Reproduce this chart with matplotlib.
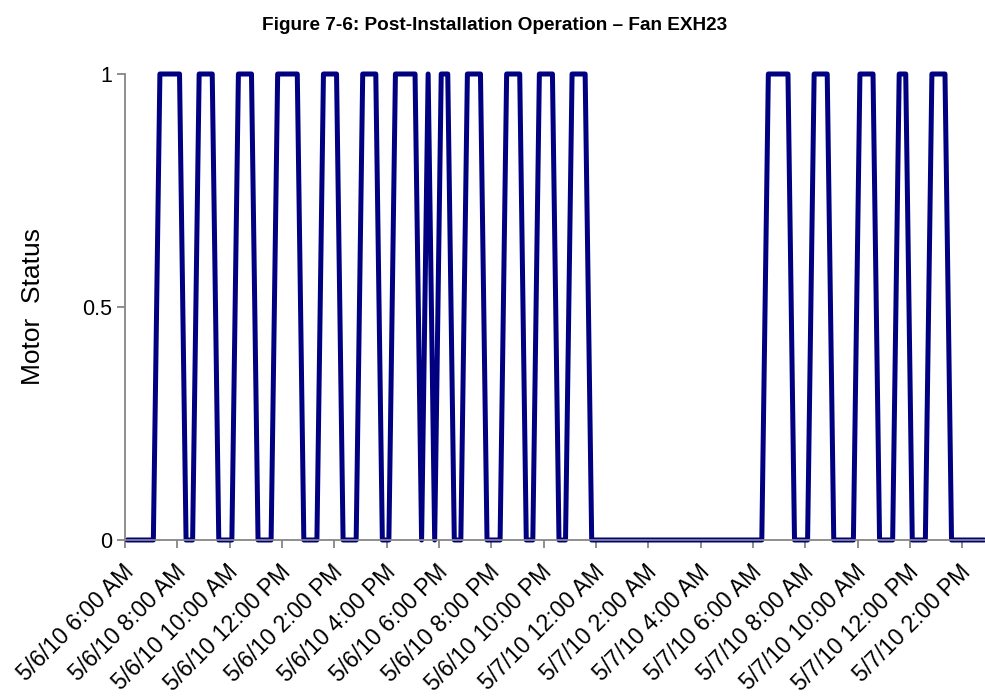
"""Post-installation run log for fan EXH23 (motor on/off status)."""

import matplotlib; matplotlib.use("Agg")
import matplotlib.pyplot as plt
import matplotlib.dates as mdates
import matplotlib.ticker as mticker
import matplotlib.transforms as mtrans
import numpy as np

plt.rcParams["font.family"] = ["Liberation Sans", "DejaVu Sans"]

# logged status vertices (logger samples every 15 min)
times = ["2010-05-06 06:05", "2010-05-06 07:05", "2010-05-06 07:20", "2010-05-06 08:05",
         "2010-05-06 08:20", "2010-05-06 08:35", "2010-05-06 08:50", "2010-05-06 09:20",
         "2010-05-06 09:35", "2010-05-06 10:05", "2010-05-06 10:20", "2010-05-06 10:50",
         "2010-05-06 11:05", "2010-05-06 11:35", "2010-05-06 11:50", "2010-05-06 12:35",
         "2010-05-06 12:50", "2010-05-06 13:20", "2010-05-06 13:35", "2010-05-06 14:05",
         "2010-05-06 14:20", "2010-05-06 14:50", "2010-05-06 15:05", "2010-05-06 15:35",
         "2010-05-06 15:50", "2010-05-06 16:05", "2010-05-06 16:20", "2010-05-06 17:05",
         "2010-05-06 17:20", "2010-05-06 17:35", "2010-05-06 17:50", "2010-05-06 18:05",
         "2010-05-06 18:20", "2010-05-06 18:35", "2010-05-06 18:50", "2010-05-06 19:05",
         "2010-05-06 19:35", "2010-05-06 19:50", "2010-05-06 20:20", "2010-05-06 20:35",
         "2010-05-06 21:05", "2010-05-06 21:20", "2010-05-06 21:35", "2010-05-06 21:50",
         "2010-05-06 22:20", "2010-05-06 22:35", "2010-05-06 22:50", "2010-05-06 23:05",
         "2010-05-06 23:35", "2010-05-06 23:50",
         "2010-05-07 06:20", "2010-05-07 06:35", "2010-05-07 07:20", "2010-05-07 07:35",
         "2010-05-07 08:05", "2010-05-07 08:20", "2010-05-07 08:50", "2010-05-07 09:05",
         "2010-05-07 09:50", "2010-05-07 10:05", "2010-05-07 10:35", "2010-05-07 10:50",
         "2010-05-07 11:20", "2010-05-07 11:35", "2010-05-07 11:50", "2010-05-07 12:05",
         "2010-05-07 12:35", "2010-05-07 12:50", "2010-05-07 13:20", "2010-05-07 13:35",
         "2010-05-07 14:50"]
status = [0, 0, 1, 1,  0, 0, 1, 1,  0, 0, 1, 1,  0, 0, 1, 1,
          0, 0, 1, 1,  0, 0, 1, 1,  0, 0, 1, 1,  0, 1, 0, 1,
          1, 0, 0, 1,  1, 0, 0, 1,  1, 0, 0, 1,  1, 0, 0, 1,
          1, 0,
          0, 1, 1, 0,  0, 1, 1, 0,  0, 1, 1, 0,  0, 1, 1, 0,
          0, 1, 1, 0,  0]
x_range = ["2010-05-06 06:00", "2010-05-07 15:00"]
yticks = [0, 0.5, 1]

title = "Figure 7-6: Post-Installation Operation \u2013 Fan EXH23"
ylabel = "Motor  Status"


def fmt_time(x, pos):
    d = mdates.num2date(x)
    return f"{d.month}/{d.day}/{d:%y} {d.hour % 12 or 12}:{d:%M} {d:%p}"


W, H = 985, 696
fig = plt.figure(figsize=(W / 100, H / 100), dpi=100)
ax = fig.add_axes([125 / W, 1 - 540 / H, 863.6 / W, 466 / H])

t = np.array(times, dtype="datetime64[m]")
ax.plot(t, status, color="#000080", linewidth=3.6, solid_joinstyle="round",
        solid_capstyle="round", clip_on=False)

ax.set_xlim(np.array(x_range, dtype="datetime64[m]"))
ax.set_ylim(0, 1)
ax.set_yticks(yticks)
ax.yaxis.set_major_formatter(mticker.FuncFormatter(lambda v, p: f"{v:g}"))
ax.xaxis.set_major_locator(mdates.HourLocator(byhour=range(0, 24, 2)))
ax.xaxis.set_major_formatter(mticker.FuncFormatter(fmt_time))

for s in ["top", "right"]:
    ax.spines[s].set_visible(False)
for s in ["left", "bottom"]:
    ax.spines[s].set_color("#868686"); ax.spines[s].set_linewidth(1.3)
ax.tick_params(direction="out", length=5.5, width=1.3, color="#868686", pad=3)
ax.tick_params(axis="y", labelsize=15.5, pad=4)
ax.tick_params(axis="x", labelsize=16.5)
# excel-style rotated labels, nudged right/down of the tick
shift = mtrans.ScaledTranslation(0.05, -0.17, fig.dpi_scale_trans)
for lab in ax.get_xticklabels():
    lab.set_rotation(45); lab.set_ha("right"); lab.set_va("center")
    lab.set_rotation_mode("anchor")
    lab.set_transform(lab.get_transform() + shift)

fig.text(0.5016, 1 - 25 / H, title, ha="center", va="center", fontsize=13.7, weight="bold")
fig.text(33 / W, 1 - 306 / H, ylabel, ha="center", va="center", rotation=90, fontsize=19)

fig.savefig("out.png", dpi=100)
